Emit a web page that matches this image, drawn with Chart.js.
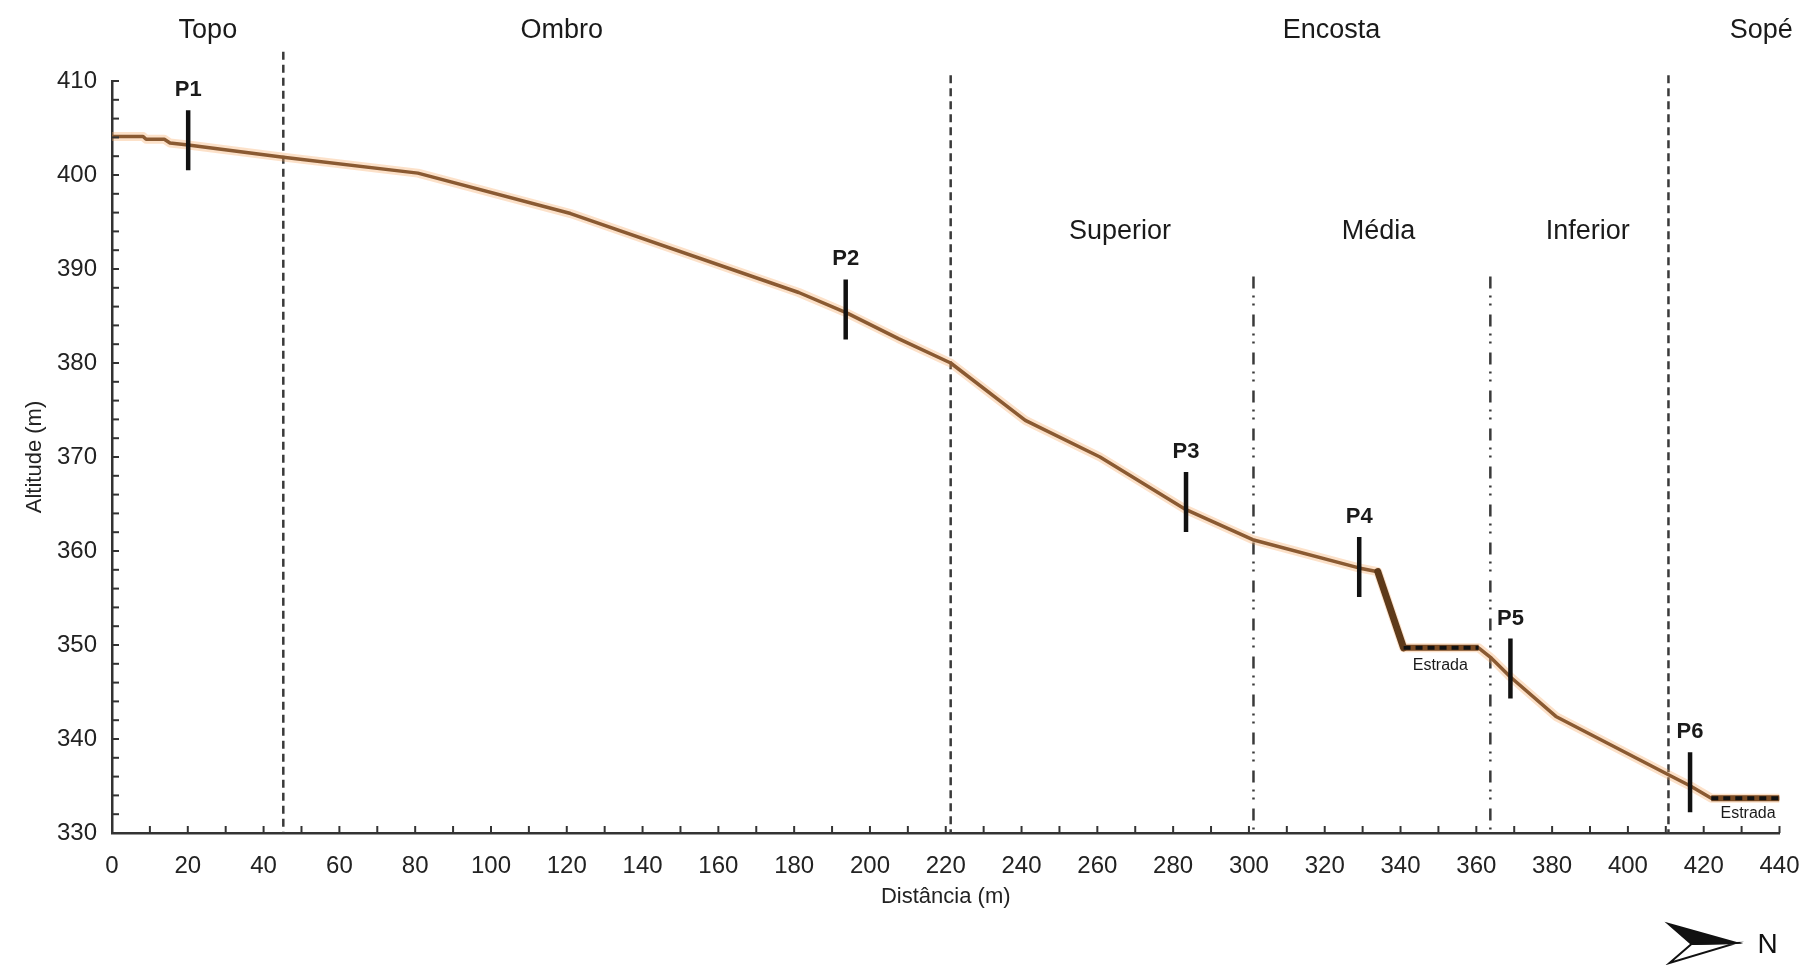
<!DOCTYPE html>
<html>
<head>
<meta charset="utf-8">
<script src="https://cdn.jsdelivr.net/npm/chart.js@4.4.0/dist/chart.umd.min.js"></script>
<style>
  html, body { margin: 0; padding: 0; background: #fff; }
</style>
</head>
<body>
<canvas id="perfil" width="1814" height="965"></canvas>
<script>
// perfil topografico
const distancia = [0, 8.2, 9.0, 13.8, 15.3, 20.1, 45.2, 80.7, 121, 181.2, 194, 207.5, 221.3, 241, 260.7, 283.4, 301, 329, 334, 340.8, 360.6, 364, 369, 381, 410.7, 416.5, 422, 440];
const altitude = [404.1, 404.1, 403.8, 403.8, 403.4, 403.2, 401.9, 400.2, 395.9, 387.5, 385.3, 382.6, 380.0, 373.9, 370.0, 364.4, 361.2, 358.2, 357.8, 349.7, 349.7, 348.6, 346.6, 342.4, 336.2, 335.0, 333.7, 333.7];

// trechos de estrada
const estrada1Dist = [340.8, 360.6];
const estrada1Alt = [349.7, 349.7];
const estrada2Dist = [422, 440];
const estrada2Alt = [333.7, 333.7];
const estradaLabelDist = [350.5, 431.7];
const estradaLabelAlt = [347.8, 332.1];

// pontos de coleta (centro da barra)
const pontos = ['P1', 'P2', 'P3', 'P4', 'P5', 'P6'];
const pontoDist = [20.1, 193.6, 283.4, 329.1, 369, 416.4];
const pontoAlt = [403.7, 385.7, 365.2, 358.3, 347.5, 335.4];

// compartimentos
const zonas = ['Topo', 'Ombro', 'Encosta', 'Sopé'];
const zonaDist = [25.3, 118.7, 321.8, 435.2];
const zonaAlt = 415.4;
const subZonas = ['Superior', 'Média', 'Inferior'];
const subZonaDist = [266, 334.2, 389.4];
const subZonaAlt = 394.0;

// limites
const limiteDist = [45.2, 221.3, 410.7];
const limiteTopo = [413.1, 410.6, 410.6];
const limiteEncostaDist = [301.2, 363.7];
const limiteEncostaTopo = 389.2;

const FONTE = "'Liberation Sans', Arial, sans-serif";

const perfil = distancia.map((d, i) => ({x: d, y: altitude[i]}));
const talude = perfil.slice(18, 20);

const desenhos = {
    id: 'desenhos',
    beforeDatasetsDraw(chart) {
        const {ctx, chartArea, scales: {x, y}} = chart;
        ctx.save();
        ctx.strokeStyle = '#3a3a3a';
        ctx.lineWidth = 2.5;
        ctx.setLineDash([8, 5]);
        limiteDist.forEach((d, i) => {
            const px = x.getPixelForValue(d);
            ctx.beginPath();
            ctx.moveTo(px, y.getPixelForValue(limiteTopo[i]));
            ctx.lineTo(px, chartArea.bottom);
            ctx.stroke();
        });
        ctx.setLineDash([12, 7, 2, 6, 2, 9]);
        limiteEncostaDist.forEach(d => {
            const px = x.getPixelForValue(d);
            ctx.beginPath();
            ctx.moveTo(px, y.getPixelForValue(limiteEncostaTopo));
            ctx.lineTo(px, chartArea.bottom);
            ctx.stroke();
        });
        ctx.restore();
    },
    afterDatasetsDraw(chart) {
        const {ctx, chartArea, scales: {x, y}} = chart;
        ctx.save();
        ctx.fillStyle = '#1a1a1a';
        ctx.textAlign = 'center';
        ctx.textBaseline = 'middle';

        ctx.font = '27px ' + FONTE;
        zonas.forEach((z, i) => ctx.fillText(z, x.getPixelForValue(zonaDist[i]), y.getPixelForValue(zonaAlt)));
        subZonas.forEach((z, i) => ctx.fillText(z, x.getPixelForValue(subZonaDist[i]), y.getPixelForValue(subZonaAlt)));

        ctx.font = 'bold 22px ' + FONTE;
        pontos.forEach((p, i) => ctx.fillText(p, x.getPixelForValue(pontoDist[i]), y.getPixelForValue(pontoAlt[i]) - 50));

        ctx.font = '16px ' + FONTE;
        estradaLabelDist.forEach((d, i) => ctx.fillText('Estrada', x.getPixelForValue(d), y.getPixelForValue(estradaLabelAlt[i])));

        // ticks para dentro
        ctx.strokeStyle = '#333';
        ctx.lineWidth = 2;
        x.ticks.forEach(t => {
            const px = x.getPixelForValue(t.value);
            ctx.beginPath();
            ctx.moveTo(px, chartArea.bottom);
            ctx.lineTo(px, chartArea.bottom - 7);
            ctx.stroke();
        });
        y.ticks.forEach(t => {
            const py = y.getPixelForValue(t.value);
            ctx.beginPath();
            ctx.moveTo(chartArea.left, py);
            ctx.lineTo(chartArea.left + 7, py);
            ctx.stroke();
        });

        // seta do norte
        const r = chartArea.right, b = chartArea.bottom;
        ctx.lineWidth = 2;
        ctx.strokeStyle = '#111';
        ctx.fillStyle = '#111';
        ctx.beginPath();
        ctx.moveTo(r - 43, b + 110);
        ctx.lineTo(r - 111, b + 91);
        ctx.lineTo(r - 88, b + 111);
        ctx.closePath();
        ctx.fill();
        ctx.stroke();
        ctx.beginPath();
        ctx.moveTo(r - 43, b + 110);
        ctx.lineTo(r - 88, b + 111);
        ctx.lineTo(r - 110, b + 130);
        ctx.closePath();
        ctx.stroke();
        ctx.font = '28px ' + FONTE;
        ctx.textAlign = 'left';
        ctx.fillText('N', r - 22, b + 112);
        ctx.restore();
    }
};

new Chart(document.getElementById('perfil'), {
    type: 'line',
    data: {
        datasets: [
            {
                data: pontoDist.map((d, i) => ({x: d, y: pontoAlt[i]})),
                showLine: false,
                pointStyle: 'line',
                rotation: 90,
                pointRadius: 30,
                pointBorderWidth: 4.5,
                pointBorderColor: '#111'
            },
            {
                data: estrada1Dist.map((d, i) => ({x: d, y: estrada1Alt[i]})),
                borderColor: '#111',
                borderWidth: 4,
                borderDash: [7, 5],
                pointRadius: 0
            },
            {
                data: estrada2Dist.map((d, i) => ({x: d, y: estrada2Alt[i]})),
                borderColor: '#111',
                borderWidth: 4,
                borderDash: [7, 5],
                pointRadius: 0
            },
            {
                data: estrada1Dist.map((d, i) => ({x: d, y: estrada1Alt[i]})),
                borderColor: '#7a4a22',
                borderWidth: 6,
                pointRadius: 0
            },
            {
                data: estrada2Dist.map((d, i) => ({x: d, y: estrada2Alt[i]})),
                borderColor: '#7a4a22',
                borderWidth: 6,
                pointRadius: 0
            },
            {
                data: talude,
                borderColor: '#5e3a1a',
                borderWidth: 7,
                borderCapStyle: 'round',
                pointRadius: 0
            },
            {
                data: perfil,
                borderColor: '#8a5a32',
                borderWidth: 3.5,
                borderJoinStyle: 'round',
                pointRadius: 0,
                tension: 0
            },
            {
                data: perfil,
                borderColor: 'rgba(245, 170, 100, 0.35)',
                borderWidth: 9,
                borderJoinStyle: 'round',
                pointRadius: 0,
                tension: 0
            }
        ]
    },
    options: {
        responsive: false,
        animation: false,
        layout: {padding: {top: 81, right: 26, left: 0, bottom: 0}},
        plugins: {legend: {display: false}, tooltip: {enabled: false}},
        scales: {
            x: {
                type: 'linear',
                min: 0,
                max: 440,
                afterFit: s => { s.height = 132; s.paddingLeft = 0; s.paddingRight = 0; },
                grid: {display: false, drawTicks: false},
                border: {display: true, color: '#333', width: 2.5},
                ticks: {
                    stepSize: 10,
                    autoSkip: false,
                    maxRotation: 0,
                    padding: 19,
                    color: '#222',
                    font: {family: FONTE, size: 24},
                    callback: v => v % 20 === 0 ? v : ''
                },
                title: {
                    display: true,
                    text: 'Distância (m)',
                    color: '#222',
                    font: {family: FONTE, size: 22},
                    padding: {top: 0, bottom: 55}
                }
            },
            y: {
                min: 330,
                max: 410,
                afterFit: s => { s.width = 112; s.paddingTop = 0; s.paddingBottom = 0; },
                grid: {display: false, drawTicks: false},
                border: {display: true, color: '#333', width: 2.5},
                ticks: {
                    stepSize: 2,
                    autoSkip: false,
                    padding: 15,
                    color: '#222',
                    font: {family: FONTE, size: 24},
                    callback: v => v % 10 === 0 ? v : ''
                },
                title: {
                    display: true,
                    text: 'Altitude (m)',
                    color: '#222',
                    font: {family: FONTE, size: 22},
                    padding: {top: 22, bottom: 0}
                }
            }
        }
    },
    plugins: [desenhos]
});
</script>
</body>
</html>
